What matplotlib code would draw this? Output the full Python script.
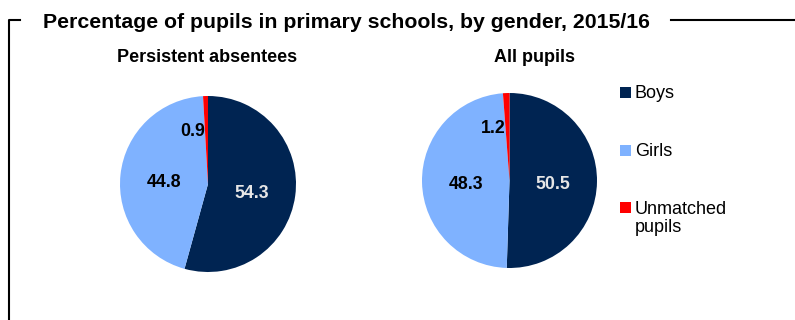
import matplotlib.pyplot as plt
from matplotlib.lines import Line2D
from matplotlib.patches import Rectangle
import numpy as np

plt.rcParams['font.family'] = ['Liberation Sans', 'DejaVu Sans']

# share of pupils by gender (%)
groups = ['Boys', 'Girls', 'Unmatched\npupils']
persistent = [54.3, 44.8, 0.9]
all_pupils = [50.5, 48.3, 1.2]
colours = ['#002452', '#7FB2FF', '#FF0000']
label_colours = ['#E6E6E6', 'black', 'black']

W, H = 795, 320
fig = plt.figure(figsize=(W / 100, H / 100), dpi=100)


def pie_axes(cx, cy, r):
    # square axes centred on (cx, cy) in pixels from top-left
    return fig.add_axes([(cx - r) / W, (H - cy - r) / H, 2 * r / W, 2 * r / H])


def draw_pie(ax, values):
    wedges, _ = ax.pie(values, colors=colours, startangle=90, counterclock=False,
                       radius=1, wedgeprops=dict(linewidth=0))
    ax.set_xlim(-1, 1)
    ax.set_ylim(-1, 1)
    ax.set_aspect('equal')
    ax.axis('off')
    for i, w in enumerate(wedges):
        mid = np.deg2rad((w.theta1 + w.theta2) / 2)
        if values[i] < 5:
            # small slice: label sits just left of it
            ax.text(np.cos(mid) * 0.62 - 0.02, np.sin(mid) * 0.6, f'{values[i]:.1f}',
                    ha='right', va='center', fontsize=12.8, fontweight='bold',
                    color=label_colours[i])
        else:
            ax.text(np.cos(mid) * 0.5, np.sin(mid) * 0.5 - 0.04, f'{values[i]:.1f}',
                    ha='center', va='center', fontsize=12.8, fontweight='bold',
                    color=label_colours[i])
    return wedges


ax1 = pie_axes(208, 184, 88)
draw_pie(ax1, persistent)
ax2 = pie_axes(509.5, 180.5, 87.5)
draw_pie(ax2, all_pupils)

fig.text(43 / W, 1 - 23 / H, 'Percentage of pupils in primary schools, by gender, 2015/16',
         ha='left', va='center', fontsize=15.3, fontweight='bold')
fig.text(207.5 / W, 1 - 58 / H, 'Persistent absentees', ha='center', va='center',
         fontsize=13, fontweight='bold')
fig.text(534 / W, 1 - 58 / H, 'All pupils', ha='center', va='center',
         fontsize=13, fontweight='bold')

# frame lines round the chart
fig.add_artist(Line2D([9 / W, 9 / W, 20 / W], [0, 1 - 20 / H, 1 - 20 / H],
                      color='black', linewidth=1.5))
fig.add_artist(Line2D([671 / W, 795 / W], [1 - 20 / H, 1 - 20 / H],
                      color='black', linewidth=1.5))

# legend: square key with the label's first line beside it
key_y = [92.5, 150.5, 207.5]
for name, col, y in zip(groups, colours, key_y):
    fig.add_artist(Rectangle((620 / W, (H - y - 5.5) / H), 11 / W, 11 / H,
                             facecolor=col, edgecolor='none'))
    fig.text(635 / W, 1 - (y - 7) / H, name, ha='left', va='top',
             fontsize=13, linespacing=1.1)

fig.savefig('out.png', dpi=100)
